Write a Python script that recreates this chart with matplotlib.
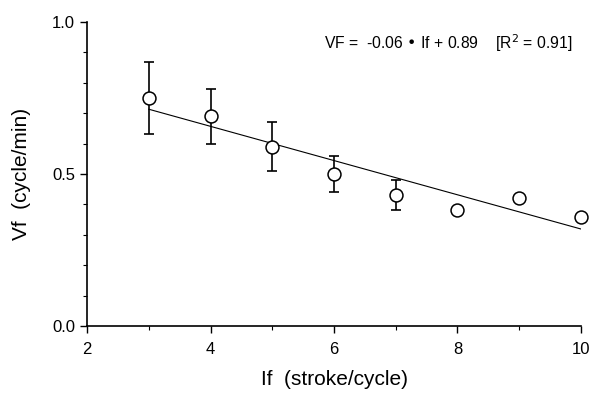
import matplotlib
matplotlib.use("Agg")
import matplotlib.pyplot as plt
import numpy as np
from matplotlib.ticker import MultipleLocator

plt.rcParams['font.family'] = ['Liberation Sans', 'DejaVu Sans']

# Data
stroke_per_cycle = [3, 4, 5, 6, 7, 8, 9, 10]
vf_mean = [0.75, 0.69, 0.59, 0.50, 0.43, 0.38, 0.42, 0.36]
vf_err_upper = [0.12, 0.09, 0.08, 0.06, 0.05, 0.0, 0.0, 0.0]
vf_err_lower = [0.12, 0.09, 0.08, 0.06, 0.05, 0.0, 0.0, 0.0]
fit_slope = -0.0563
fit_intercept = 0.882
fit_x = [3, 10]
x_ticks = [2, 4, 6, 8, 10]
y_ticks = [0.0, 0.5, 1.0]
y_ticklabels = ['0.0', '0.5', '1.0']
equation_text = "VF =  -0.06 \u2022 If + 0.89    [R$^2$ = 0.91]"

fig = plt.figure(figsize=(5.92, 3.93), dpi=100)
ax = fig.add_axes([0.1470, 0.1705, 0.8344, 0.7735])

# error bars (only where present)
ex, ey, elo, ehi = [], [], [], []
for x, y, lo, hi in zip(stroke_per_cycle, vf_mean, vf_err_lower, vf_err_upper):
    if lo > 0 or hi > 0:
        ex.append(x); ey.append(y); elo.append(lo); ehi.append(hi)
ax.errorbar(ex, ey, yerr=[elo, ehi], fmt='none', ecolor='black',
            elinewidth=1.2, capsize=3.5, capthick=1.2, zorder=2)

fx = np.array(fit_x, dtype=float)
ax.plot(fx, fit_slope * fx + fit_intercept, color='black', lw=0.8, zorder=1)

ax.plot(stroke_per_cycle, vf_mean, linestyle='none', marker='o', ms=9.3,
        mfc='white', mec='black', mew=1.1, zorder=3, clip_on=False)

ax.set_xlim(2, 10)
ax.set_ylim(0, 1.0)
ax.set_xticks(x_ticks)
ax.xaxis.set_minor_locator(MultipleLocator(1))
ax.set_yticks(y_ticks)
ax.set_yticklabels(y_ticklabels)
ax.yaxis.set_minor_locator(MultipleLocator(0.1))

for s in ['top', 'right']:
    ax.spines[s].set_visible(False)
for s in ['left', 'bottom']:
    ax.spines[s].set_linewidth(1.2)

ax.tick_params(which='major', direction='out', length=4.7, width=1.0, labelsize=12)
ax.tick_params(axis='x', which='major', pad=7)
ax.tick_params(axis='y', which='major', pad=4)
ax.tick_params(which='minor', direction='out', length=3, width=0.8)

ax.set_xlabel('If  (stroke/cycle)', fontsize=15, labelpad=9)
ax.set_ylabel('Vf  (cycle/min)', fontsize=15, labelpad=15)

ax.text(7.85, 0.931, equation_text, ha='center', va='center', fontsize=11.3)

fig.savefig('out.png', dpi=100)
